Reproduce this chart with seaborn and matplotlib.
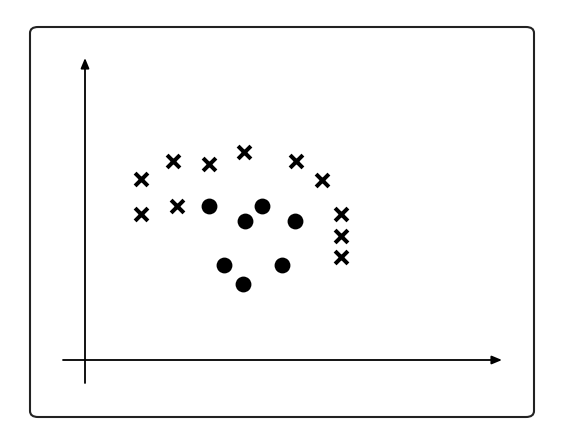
import matplotlib
matplotlib.use("Agg")
import matplotlib.pyplot as plt
from matplotlib.patches import FancyBboxPatch
import seaborn as sns
import pandas as pd

# Data (arbitrary units, origin at the axes' intersection)
cross_x = [2.24, 3.52, 4.96, 6.36, 8.44, 9.48, 2.24, 3.68, 10.24, 10.24, 10.24]
cross_y = [7.24, 7.96, 7.84, 8.32, 7.96, 7.20, 5.84, 6.16, 5.84, 4.96, 4.12]
circle_x = [4.96, 7.08, 6.40, 8.40, 5.56, 7.88, 6.32]
circle_y = [6.16, 6.16, 5.56, 5.56, 3.80, 3.80, 3.04]

crosses = pd.DataFrame({"x": cross_x, "y": cross_y})
circles = pd.DataFrame({"x": circle_x, "y": circle_y})

sns.set_style("white")
fig = plt.figure(figsize=(5.73, 4.33), dpi=100)
ax = fig.add_axes([0, 0, 1, 1])

# rounded frame
frame = FancyBboxPatch((30 / 573, 16 / 433), (534 - 30) / 573, (417 - 27) / 433,
                       boxstyle="round,pad=0,rounding_size=0.014",
                       transform=fig.transFigure, fill=False,
                       edgecolor="#222222", linewidth=1.5)
fig.patches.append(frame)

sns.scatterplot(data=crosses, x="x", y="y", marker="x", color="black",
                s=85, linewidth=2.9, ax=ax, zorder=3)
sns.scatterplot(data=circles, x="x", y="y", marker="o", color="black",
                s=130, edgecolor="black", linewidth=0, ax=ax, zorder=3)

ax.set_xlim(-3.4, 19.52)
ax.set_ylim(-2.92, 14.4)

arrow_kw = dict(arrowstyle="-|>,head_length=0.6,head_width=0.25",
                color="black", lw=1.3, shrinkA=0, shrinkB=0)
ax.annotate("", xy=(0, 12.08), xytext=(0, -0.92), arrowprops=arrow_kw)
ax.annotate("", xy=(16.68, 0), xytext=(-0.88, 0), arrowprops=arrow_kw)

ax.set_axis_off()
ax.set_xlabel("")
ax.set_ylabel("")
fig.savefig("out.png", dpi=100)
